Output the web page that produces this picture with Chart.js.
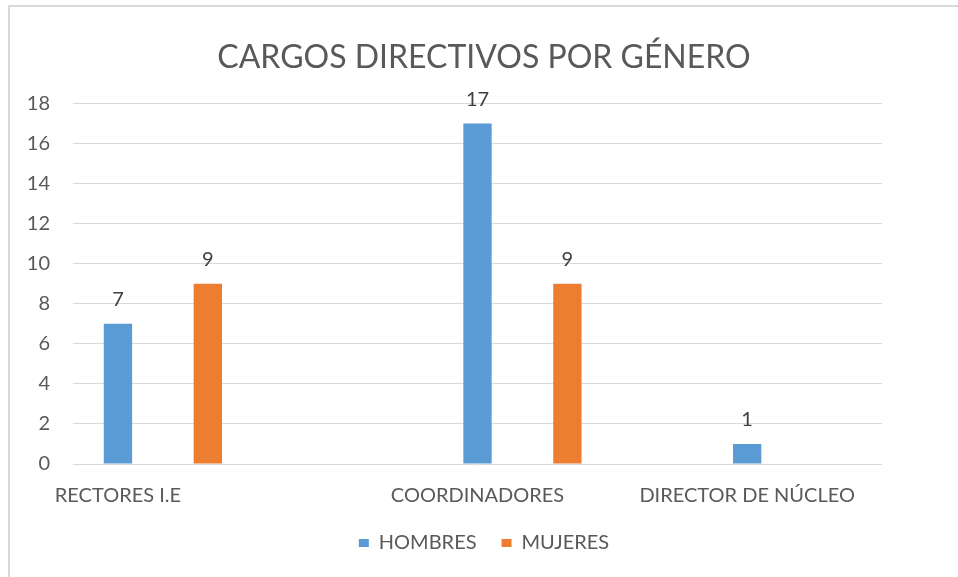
<!DOCTYPE html>
<html>
<head>
<meta charset="utf-8">
<script src="https://cdn.jsdelivr.net/npm/chart.js@4.4.1/dist/chart.umd.min.js"></script>
<style>
  html, body { margin: 0; padding: 0; background: #fff; }
</style>
</head>
<body>
<canvas id="graficoCargos" width="958" height="577"></canvas>
<script>
  // datos
  const categorias = ['RECTORES I.E', 'COORDINADORES', 'DIRECTOR DE NÚCLEO'];
  const hombres = [7, 17, 1];
  const mujeres = [9, 9, null];
  const ejeYMax = 18;
  const ejeYPaso = 2;

  // el grafico original reparte las barras en 9 huecos iguales
  const huecos = 9;
  const huecoHombres = [0, 4, 7];
  const huecoMujeres = [1, 5, 8];
  const huecoEtiqueta = [0, 4, 7];

  function repartir(valores, posiciones) {
    const salida = new Array(huecos).fill(null);
    valores.forEach((v, i) => { salida[posiciones[i]] = v; });
    return salida;
  }

  const etiquetas = new Array(huecos).fill('');
  huecoEtiqueta.forEach((p, i) => { etiquetas[p] = categorias[i]; });

  const fuente = 'Lato, "Open Sans", sans-serif';
  const gris = '#595959';

  // borde gris del cuadro del grafico
  const bordeCuadro = {
    id: 'bordeCuadro',
    beforeDraw(chart) {
      const ctx = chart.ctx;
      ctx.save();
      ctx.fillStyle = '#fff';
      ctx.fillRect(0, 0, chart.width, chart.height);
      ctx.strokeStyle = '#d9d9d9';
      ctx.lineWidth = 2;
      ctx.strokeRect(9, 6, chart.width + 10, chart.height + 10);
      ctx.restore();
    }
  };

  // numeros encima de cada barra
  const etiquetasValor = {
    id: 'etiquetasValor',
    afterDatasetsDraw(chart) {
      const ctx = chart.ctx;
      ctx.save();
      ctx.font = '20px ' + fuente;
      ctx.fillStyle = '#404040';
      ctx.textAlign = 'center';
      ctx.textBaseline = 'middle';
      chart.data.datasets.forEach((ds, i) => {
        const meta = chart.getDatasetMeta(i);
        meta.data.forEach((barra, j) => {
          const v = ds.data[j];
          if (v === null || v === undefined) return;
          ctx.fillText(String(v), barra.x, barra.y - 24);
        });
      });
      ctx.restore();
    }
  };

  const config = {
    type: 'bar',
    data: {
      labels: etiquetas,
      datasets: [
        {
          label: 'HOMBRES',
          data: repartir(hombres, huecoHombres),
          backgroundColor: '#5B9BD5',
          borderWidth: 0,
          barPercentage: 0.315,
          categoryPercentage: 1
        },
        {
          label: 'MUJERES',
          data: repartir(mujeres, huecoMujeres),
          backgroundColor: '#ED7D31',
          borderWidth: 0,
          barPercentage: 0.315,
          categoryPercentage: 1
        }
      ]
    },
    options: {
      responsive: false,
      animation: false,
      layout: { padding: { left: 10, right: 0, top: 0, bottom: 14 } },
      plugins: {
        title: {
          display: true,
          text: 'CARGOS DIRECTIVOS POR GÉNERO',
          color: gris,
          font: { family: fuente, size: 32, weight: '400' },
          padding: { top: 38, bottom: 27 }
        },
        legend: {
          position: 'bottom',
          labels: {
            color: gris,
            font: { family: fuente, size: 20 },
            boxWidth: 10,
            boxHeight: 8,
            padding: 25
          }
        },
        tooltip: { enabled: false }
      },
      scales: {
        x: {
          stacked: true,
          grid: { display: false, drawTicks: false },
          border: { display: false },
          ticks: {
            color: gris,
            font: { family: fuente, size: 20 },
            autoSkip: false,
            maxRotation: 0,
            minRotation: 0,
            padding: 20
          },
          afterFit(escala) { escala.height = 44; }
        },
        y: {
          stacked: true,
          min: 0,
          max: ejeYMax,
          grid: { color: '#d9d9d9', lineWidth: 1, drawTicks: false },
          border: { display: false },
          ticks: {
            stepSize: ejeYPaso,
            color: gris,
            font: { family: fuente, size: 20 },
            padding: 23
          },
          afterFit(escala) { escala.width = 63; }
        },
        margenDerecho: {
          type: 'linear',
          position: 'right',
          display: true,
          grid: { display: false, drawTicks: false },
          border: { display: false },
          ticks: { display: false },
          afterFit(escala) { escala.width = 76; }
        }
      }
    },
    plugins: [bordeCuadro, etiquetasValor]
  };

  const ctx = document.getElementById('graficoCargos').getContext('2d');
  new Chart(ctx, config);
</script>
</body>
</html>
